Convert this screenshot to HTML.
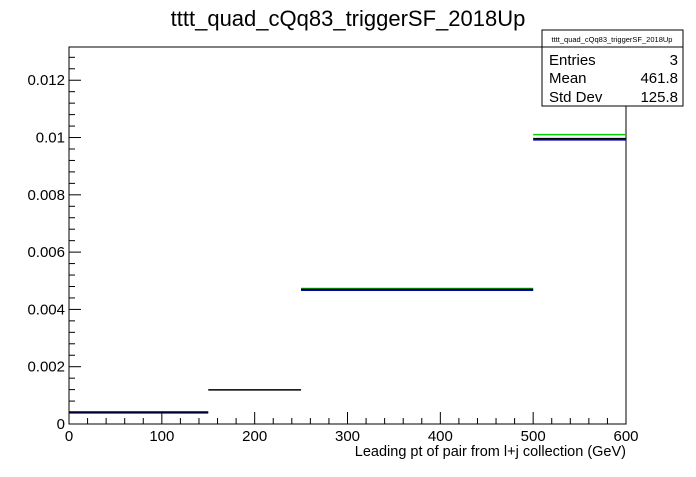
<!DOCTYPE html>
<html><head><meta charset="utf-8"><style>
body{margin:0;background:#fff;font-family:"Liberation Sans",sans-serif}
svg text{font-family:"Liberation Sans",sans-serif}
</style></head><body>
<svg width="696" height="472" xmlns="http://www.w3.org/2000/svg">
<text x="348" y="26" text-anchor="middle" font-size="22">tttt_quad_cQq83_triggerSF_2018Up</text>
<rect x="69" y="47" width="557" height="377" fill="none" stroke="#000"/>
<g id="axes"></g>
<g id="series"></g>
<text x="626" y="456" text-anchor="end" font-size="14.5">Leading pt of pair from l+j collection (GeV)</text>
<g>
<rect x="542" y="30" width="141" height="76" fill="#fff" stroke="#000"/>
<line x1="542" y1="47" x2="683" y2="47" stroke="#000"/>
<text x="612" y="42" text-anchor="middle" font-size="7.5">tttt_quad_cQq83_triggerSF_2018Up</text>
<text x="549" y="65" font-size="15">Entries</text><text x="678" y="65" text-anchor="end" font-size="15">3</text>
<text x="549" y="83" font-size="15">Mean</text><text x="678" y="83" text-anchor="end" font-size="15">461.8</text>
<text x="549" y="102" font-size="15">Std Dev</text><text x="678" y="102" text-anchor="end" font-size="15">125.8</text>
</g>
</svg>
<script>
const binEdges=[0,150,250,500,600];
const blackVals=[0.00042,0.00119,0.00470,0.00996];
const blueVals=[0.00039,null,0.00467,0.00992];
const greenVals=[null,null,0.00473,0.01010];
const xTicks=[0,100,200,300,400,500,600];
const yTicks=[0,0.002,0.004,0.006,0.008,0.01,0.012];
const yTickLabels=["0","0.002","0.004","0.006","0.008","0.01","0.012"];
const X0=69,X1=626,Y0=424,Y1=47,XMAX=600,YMAX=0.01316;
const sx=v=>X0+(X1-X0)*v/XMAX, sy=v=>Y0-(Y0-Y1)*v/YMAX;
const NS="http://www.w3.org/2000/svg";
const ax=document.getElementById('axes'), se=document.getElementById('series');
function mk(t,a,p){const e=document.createElementNS(NS,t);for(const k in a)e.setAttribute(k,a[k]);p.appendChild(e);return e;}
for(let v=0;v<=XMAX+0.1;v+=20){const big=v%100===0;const l=mk('line',{x1:sx(v),x2:sx(v),y1:Y0,y2:Y0-(big?12:6),stroke:'#000'},ax);

}
xTicks.forEach(v=>{const t=mk('text',{x:sx(v),y:Y0+17,'text-anchor':'middle','font-size':15},ax);t.textContent=v;

});
for(let i=0;i*0.0004<=YMAX;i++){const v=i*0.0004;const big=i%5===0;const l=mk('line',{x1:X0,x2:X0+(big?12:6),y1:sy(v),y2:sy(v),stroke:'#000'},ax);

}
yTicks.forEach((v,i)=>{const t=mk('text',{x:X0-4,y:sy(v)+5,'text-anchor':'end','font-size':15},ax);t.textContent=yTickLabels[i];

});
function draw(vals,color,name,w){vals.forEach((v,i)=>{if(v==null)return;const l=mk('line',{x1:sx(binEdges[i]),x2:sx(binEdges[i+1]),y1:sy(v),y2:sy(v),stroke:color,'stroke-width':w},se);

});}
draw(greenVals,'#00cc00','green',1.5);
draw(blueVals,'#0000cc','blue',1.5);
draw(blackVals,'#000','black',1.5);
</script>
</body></html>
